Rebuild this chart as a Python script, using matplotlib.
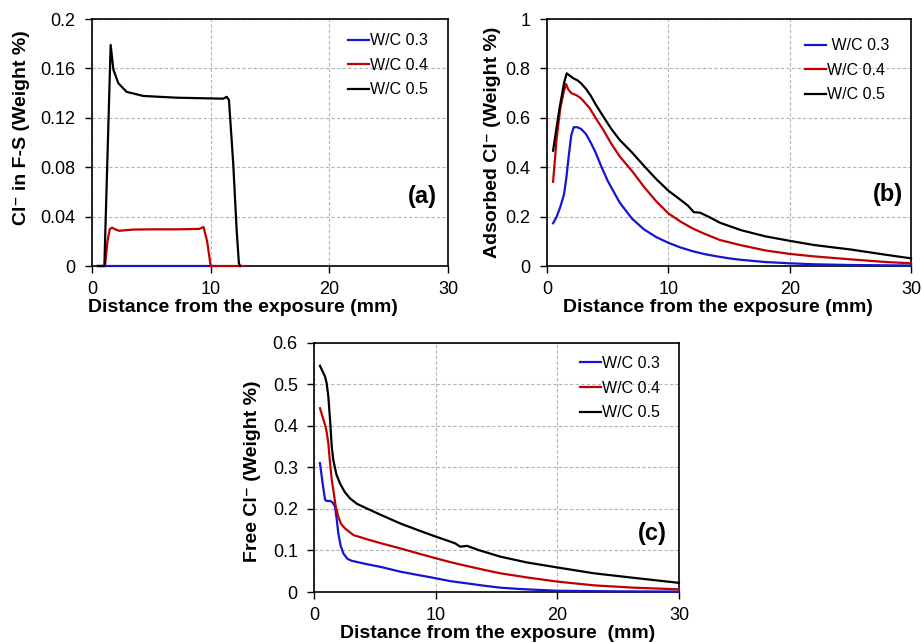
import matplotlib
matplotlib.use("Agg")
import matplotlib.pyplot as plt
from matplotlib.ticker import FuncFormatter

plt.rcParams['font.family'] = ['Liberation Sans', 'DejaVu Sans']

labels = ['W/C 0.3', 'W/C 0.4', 'W/C 0.5']
colors = ['#1414D2', '#C00000', '#000000']

# (a) Cl- in F-S
a_x03 = [0.45, 10.4]
a_y03 = [0, 0]
a_x04 = [0.5, 1.1, 1.3, 1.5, 1.7, 2.0, 2.3, 2.8, 3.5, 5.0, 7.0, 9.0, 9.4, 9.7, 10.0, 12.9]
a_y04 = [0, 0, 0.02, 0.030, 0.031, 0.0295, 0.0285, 0.029, 0.0295, 0.0297, 0.0297, 0.030, 0.0315, 0.02, 0, 0]
a_x05 = [0.5, 1.04, 1.57, 1.8, 2.22, 2.92, 4.33, 7.13, 11.06, 11.35, 11.54, 11.9, 12.19, 12.38, 12.5]
a_y05 = [0, 0, 0.179, 0.159, 0.148, 0.141, 0.1377, 0.1363, 0.1355, 0.137, 0.1344, 0.083, 0.029, 0.002, 0]

# (b) adsorbed Cl-
b_x03 = [0.5, 0.8, 1.1, 1.4, 1.6, 1.8, 2.0, 2.2, 2.5, 2.8, 3.2, 3.6, 4.0, 4.5, 5.0, 5.5, 6.0,
         7, 8, 9, 10, 11, 12, 13, 14, 15, 16, 18, 20, 22, 25, 30]
b_y03 = [0.173, 0.20, 0.24, 0.29, 0.36, 0.45, 0.53, 0.562, 0.562, 0.555, 0.535, 0.50, 0.46, 0.40,
         0.345, 0.30, 0.256, 0.192, 0.148, 0.117, 0.094, 0.075, 0.060, 0.048, 0.039, 0.031, 0.025,
         0.016, 0.011, 0.007, 0.004, 0.002]
b_x04 = [0.5, 0.8, 1.1, 1.4, 1.57, 1.75, 2.0, 2.4, 2.72, 3.0, 3.5, 4.0, 4.64, 5.3, 6.0, 7, 8, 9,
         10, 11, 12, 13, 14.26, 16, 18, 20, 22, 25, 28, 30]
b_y04 = [0.341, 0.52, 0.64, 0.71, 0.737, 0.715, 0.700, 0.692, 0.682, 0.668, 0.640, 0.600, 0.551,
         0.495, 0.443, 0.385, 0.320, 0.262, 0.213, 0.180, 0.152, 0.130, 0.105, 0.084, 0.063, 0.049,
         0.039, 0.027, 0.016, 0.011]
b_x05 = [0.5, 1.0, 1.4, 1.62, 1.9, 2.17, 2.5, 2.8, 3.2, 3.6, 4.0, 4.64, 5.3, 6.0, 7, 8, 9, 10, 11,
         11.6, 12.1, 12.6, 13.3, 14.26, 16, 18, 20, 22, 25, 28, 30]
b_y05 = [0.467, 0.63, 0.74, 0.78, 0.77, 0.76, 0.752, 0.740, 0.718, 0.690, 0.655, 0.605, 0.555,
         0.510, 0.460, 0.405, 0.352, 0.305, 0.268, 0.245, 0.218, 0.216, 0.200, 0.175, 0.145, 0.120,
         0.102, 0.085, 0.067, 0.045, 0.031]

# (c) free Cl-
c_x03 = [0.45, 0.7, 0.87, 1.0, 1.3, 1.5, 1.69, 1.85, 1.96, 2.15, 2.37, 2.7, 3.07, 4.3, 5.5, 7.05,
         8.5, 10, 11.2, 12.5, 14, 15.3, 17, 20, 25, 30]
c_y03 = [0.31, 0.255, 0.222, 0.219, 0.219, 0.215, 0.205, 0.170, 0.141, 0.112, 0.093, 0.080, 0.075,
         0.067, 0.060, 0.049, 0.041, 0.033, 0.026, 0.021, 0.015, 0.0104, 0.007, 0.003, 0.0015, 0.001]
c_x04 = [0.45, 0.87, 1.0, 1.14, 1.28, 1.42, 1.55, 1.75, 1.96, 2.2, 2.51, 3.2, 4.3, 5.5, 7.05, 8.5,
         10, 11.3, 12.55, 14, 15.3, 17.5, 20, 23, 26.3, 30]
c_y04 = [0.442, 0.402, 0.385, 0.358, 0.31, 0.27, 0.245, 0.205, 0.181, 0.163, 0.153, 0.137, 0.127,
         0.117, 0.105, 0.093, 0.081, 0.071, 0.0625, 0.053, 0.045, 0.035, 0.025, 0.016, 0.0104, 0.0064]
c_x05 = [0.45, 0.87, 1.0, 1.14, 1.28, 1.42, 1.55, 1.8, 2.1, 2.5, 2.93, 3.5, 4.3, 5.5, 7.05, 8.5, 10,
         11.0, 11.58, 12.0, 12.55, 13.5, 15.3, 17.5, 20, 23, 26.3, 30]
c_y05 = [0.544, 0.518, 0.502, 0.470, 0.414, 0.35, 0.317, 0.283, 0.261, 0.240, 0.225, 0.212, 0.201,
         0.185, 0.165, 0.149, 0.133, 0.123, 0.117, 0.109, 0.111, 0.101, 0.085, 0.071, 0.059, 0.045,
         0.034, 0.022]

x_ticks = [0, 10, 20, 30]


def style_axes(ax, ymax, ystep):
    ax.set_xlim(0, 30)
    ax.set_ylim(0, ymax)
    ax.set_xticks(x_ticks)
    n = int(round(ymax / ystep))
    ax.set_yticks([i * ystep for i in range(n + 1)])
    ax.yaxis.set_major_formatter(FuncFormatter(lambda v, p: '%g' % round(v, 4)))
    ax.grid(True, color='#b4b4b4', linestyle=(0, (3, 2)), linewidth=0.8)
    ax.set_axisbelow(True)
    ax.tick_params(direction='out', length=5, width=1, labelsize=13,
                   top=False, right=False)
    ax.tick_params(axis='x', pad=6)
    ax.tick_params(axis='y', pad=7)
    for s in ax.spines.values():
        s.set_linewidth(1.2)


def add_lines(ax, xs, ys, leg_anchor, leg_labels):
    for x, y, c, lab in zip(xs, ys, colors, leg_labels):
        ax.plot(x, y, color=c, linewidth=1.6, label=lab, clip_on=False, zorder=3)
    ax.legend(loc='upper left', bbox_to_anchor=leg_anchor, frameon=False, fontsize=11.5,
              handlelength=1.3, handletextpad=0.1, labelspacing=0.6,
              borderpad=0, borderaxespad=0)


fig = plt.figure(figsize=(9.22, 6.43), dpi=100)

ax_a = fig.add_axes([0.0998, 0.5863, 0.3861, 0.3841])
ax_b = fig.add_axes([0.5933, 0.5863, 0.3948, 0.3841])
ax_c = fig.add_axes([0.3411, 0.0793, 0.3953, 0.3880])

style_axes(ax_a, 0.2, 0.04)
add_lines(ax_a, [a_x03, a_x04, a_x05], [a_y03, a_y04, a_y05], (0.719, 0.943), labels)
ax_a.set_xlabel('Distance from the exposure (mm)', fontsize=14, fontweight='bold')
ax_a.set_ylabel('Cl⁻ in F-S (Weight %)', fontsize=14, fontweight='bold')
ax_a.xaxis.set_label_coords(0.424, -0.166)
ax_a.yaxis.set_label_coords(-0.197, 0.559)
ax_a.text(0.969, 0.283, '(a)', transform=ax_a.transAxes, ha='right', va='center',
          fontsize=17, fontweight='bold')

style_axes(ax_b, 1.0, 0.2)
add_lines(ax_b, [b_x03, b_x04, b_x05], [b_y03, b_y04, b_y05], (0.709, 0.922),
          [' ' + labels[0], labels[1], labels[2]])
ax_b.set_xlabel('Distance from the exposure (mm)', fontsize=14, fontweight='bold')
ax_b.set_ylabel('Adsorbed Cl⁻ (Weight %)', fontsize=14, fontweight='bold')
ax_b.xaxis.set_label_coords(0.47, -0.166)
ax_b.yaxis.set_label_coords(-0.151, 0.502)
ax_b.text(0.978, 0.29, '(b)', transform=ax_b.transAxes, ha='right', va='center',
          fontsize=17, fontweight='bold')

style_axes(ax_c, 0.6, 0.1)
add_lines(ax_c, [c_x03, c_x04, c_x05], [c_y03, c_y04, c_y05], (0.728, 0.946), labels)
ax_c.set_xlabel('Distance from the exposure  (mm)', fontsize=14, fontweight='bold')
ax_c.set_ylabel('Free Cl⁻ (Weight %)', fontsize=14, fontweight='bold')
ax_c.xaxis.set_label_coords(0.503, -0.168)
ax_c.yaxis.set_label_coords(-0.169, 0.485)
ax_c.text(0.967, 0.236, '(c)', transform=ax_c.transAxes, ha='right', va='center',
          fontsize=17, fontweight='bold')

for ax in (ax_a, ax_b, ax_c):
    ax.xaxis.label.set_va('center')
    ax.yaxis.label.set_va('center')

fig.savefig('out.png', dpi=100)
